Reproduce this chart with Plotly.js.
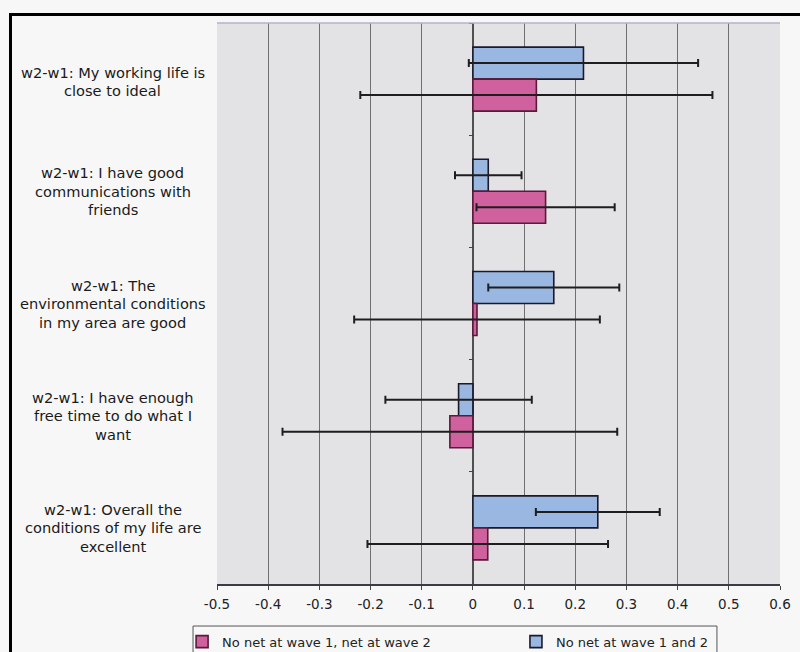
<!DOCTYPE html>
<html>
<head>
<meta charset="utf-8">
<script src="https://cdn.plot.ly/plotly-3.0.1.min.js"></script>
<style>
  html, body { margin: 0; padding: 0; background: #f7f7f7; }
  #wrap { position: relative; width: 800px; height: 652px; overflow: hidden; }
  #chart { width: 800px; height: 652px; position: relative; }
  #frame { position: absolute; left: 9px; top: 13px; width: 820px; height: 700px;
           border-left: 3px solid #000; border-top: 3px solid #000; pointer-events: none; }
</style>
</head>
<body>
<div id="wrap">
  <div id="chart"></div>
  <div id="frame"></div>
</div>
<script>
// Categories, top to bottom ("|" marks a line break in the label)
const categories = [
  "w2-w1: My working life is|close to ideal",
  "w2-w1: I have good|communications with|friends",
  "w2-w1: The|environmental conditions|in my area are good",
  "w2-w1: I have enough|free time to do what I|want",
  "w2-w1: Overall the|conditions of my life are|excellent"
];
const seriesNames = ["No net at wave 1 and 2", "No net at wave 1, net at wave 2"];
// Series: No net at wave 1 and 2 (blue)
const blueValues = [0.216, 0.030, 0.158, -0.028, 0.244];
const blueErrors = [0.224, 0.065, 0.128, 0.143, 0.121];
// Series: No net at wave 1, net at wave 2 (pink)
const pinkValues = [0.124, 0.142, 0.008, -0.045, 0.029];
const pinkErrors = [0.344, 0.135, 0.240, 0.327, 0.235];
// X axis ticks
const xTickVals = [-0.5, -0.4, -0.3, -0.2, -0.1, 0, 0.1, 0.2, 0.3, 0.4, 0.5, 0.6];
const xTickText = ["-0.5", "-0.4", "-0.3", "-0.2", "-0.1", "0", "0.1", "0.2", "0.3", "0.4", "0.5", "0.6"];

const FONT = 'DejaVu Sans, Verdana, sans-serif';

const traces = [
  {
    type: 'bar', orientation: 'h', name: seriesNames[0], legend: 'legend2',
    y: categories, x: blueValues,
    marker: { color: '#9ab7e1', line: { color: '#1a1a2a', width: 1.6 } },
    error_x: { type: 'data', array: blueErrors, visible: true, color: '#1e1e1e', thickness: 2, width: 4 }
  },
  {
    type: 'bar', orientation: 'h', name: seriesNames[1], legend: 'legend',
    y: categories, x: pinkValues,
    marker: { color: '#cf619e', line: { color: '#5a1a3a', width: 1.6 } },
    error_x: { type: 'data', array: pinkErrors, visible: true, color: '#1e1e1e', thickness: 2, width: 4 }
  }
];

// Category labels as centered multi-line annotations
const annotations = [];
const lineGap = 18.5;
categories.forEach(function (c) {
  const lines = c.split('|');
  const mid = (lines.length - 1) / 2;
  lines.forEach(function (ln, i) {
    annotations.push({
      xref: 'paper', yref: 'y', x: -0.185, y: c,
      text: ln, showarrow: false, xanchor: 'center', yanchor: 'middle',
      yshift: (mid - i) * lineGap - (lines.length === 2 ? 2.5 : 0),
      font: { family: FONT, size: 14.6, color: '#1a1a1a' }
    });
  });
});

const legendCommon = {
  orientation: 'h', yanchor: 'top', y: -0.076, xanchor: 'left',
  bgcolor: 'rgba(0,0,0,0)', borderwidth: 0,
  font: { family: FONT, size: 13, color: '#222' }
};

const layout = {
  width: 800, height: 652,
  margin: { l: 217, r: 20, t: 23, b: 68, autoexpand: false },
  paper_bgcolor: '#f7f7f7',
  plot_bgcolor: '#e3e3e6',
  barmode: 'group',
  bargap: 0.43,
  bargroupgap: 0,
  showlegend: true,
  legend: Object.assign({}, legendCommon, { x: -0.062 }),
  legend2: Object.assign({}, legendCommon, { x: 0.531 }),
  shapes: [
    {
      type: 'rect', xref: 'paper', yref: 'paper',
      x0: -0.0426, x1: 0.888, y0: -0.0749, y1: -0.16,
      line: { color: '#555', width: 1 }, fillcolor: 'rgba(0,0,0,0)', layer: 'below'
    },
    {
      type: 'line', xref: 'paper', yref: 'paper', x0: 0, x1: 1, y0: 1, y1: 1,
      line: { color: '#b8b0cc', width: 1.5 }
    }
  ],
  xaxis: {
    range: [-0.5, 0.6],
    tickvals: xTickVals, ticktext: xTickText,
    showgrid: true, gridcolor: '#707070', gridwidth: 1,
    zeroline: true, zerolinecolor: '#505050', zerolinewidth: 1.5,
    showline: true, linecolor: '#3a3a4a', linewidth: 1.5,
    ticks: 'outside', ticklen: 4, tickcolor: '#444',
    ticklabelstandoff: 3,
    tickfont: { family: FONT, size: 13.5, color: '#222' }
  },
  yaxis: {
    type: 'category', autorange: 'reversed',
    anchor: 'free', position: 0.4547,
    showticklabels: false, showgrid: false, zeroline: false,
    showline: false, ticks: 'outside', tickson: 'boundaries',
    ticklen: 4, tickcolor: '#444', tickwidth: 1
  },
  annotations: annotations
};

Plotly.newPlot('chart', traces, layout, { displayModeBar: false, staticPlot: true });
</script>
</body>
</html>
